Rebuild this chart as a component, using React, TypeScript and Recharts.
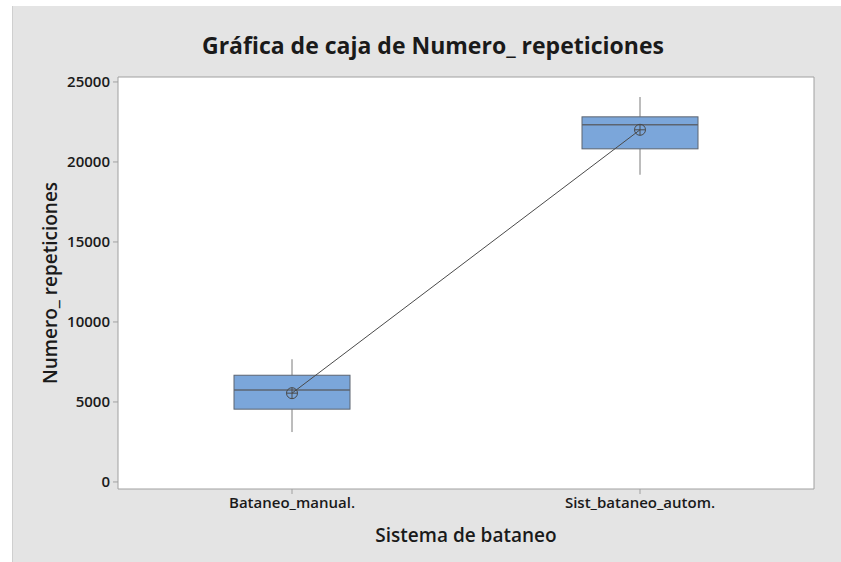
import { ComposedChart, Bar, Line, XAxis, YAxis, CartesianGrid, ReferenceArea } from 'recharts'

const categories = ['Bataneo_manual.', 'Sist_bataneo_autom.']
const whiskerMin = [3120, 19200]
const q1 = [4550, 20820]
const median = [5740, 22320]
const q3 = [6670, 22820]
const whiskerMax = [7670, 24060]
const means = [5550, 22010]

const yTicks = [0, 5000, 10000, 15000, 20000, 25000]
const yDomain: [number, number] = [-440, 25310]

const data = categories.map((name, i) => ({
  name,
  box: [q1[i], q3[i]],
  min: whiskerMin[i],
  q1: q1[i],
  median: median[i],
  q3: q3[i],
  max: whiskerMax[i],
  mean: means[i],
}))

const FONT = '"Open Sans", "Noto Sans", sans-serif'
const TEXT = '#1a1a1a'

const BoxShape = (props: any) => {
  const { x, y, width, height, payload } = props
  const top = Math.min(y, y + height)
  const bottom = Math.max(y, y + height)
  const ppu = (bottom - top) / (payload.q3 - payload.q1)
  const cx = x + width / 2
  const medY = top + (payload.q3 - payload.median) * ppu
  const hiY = top - (payload.max - payload.q3) * ppu
  const loY = bottom + (payload.q1 - payload.min) * ppu
  return (
    <g>
      <line x1={cx} x2={cx} y1={hiY} y2={top} stroke="#7a7a7a" strokeWidth={1} />
      <line x1={cx} x2={cx} y1={bottom} y2={loY} stroke="#7a7a7a" strokeWidth={1} />
      <rect x={x} y={top} width={width} height={bottom - top} fill="#7ba6da" stroke="#5c6470" strokeWidth={1} />
      <line x1={x} x2={x + width} y1={medY} y2={medY} stroke="#5c6470" strokeWidth={1.5} />
    </g>
  )
}

const MeanDot = (props: any) => {
  const { cx, cy, index } = props
  if (cx == null || cy == null) return <g key={index} />
  return (
    <g key={index}>
      <circle cx={cx} cy={cy} r={5.5} fill="none" stroke="#4a4a4a" strokeWidth={1} />
      <line x1={cx - 5.5} x2={cx + 5.5} y1={cy} y2={cy} stroke="#4a4a4a" strokeWidth={1} />
      <line x1={cx} x2={cx} y1={cy - 5.5} y2={cy + 5.5} stroke="#4a4a4a" strokeWidth={1} />
    </g>
  )
}

const YLabel = (props: any) => {
  const vb = props.viewBox
  const x = vb.x + 50
  const y = vb.y + vb.height / 2
  return (
    <text x={x} y={y} transform={`rotate(-90 ${x} ${y})`} textAnchor="middle" dominantBaseline="central"
      fontFamily={FONT} fontSize={19} fontWeight={600} fill={TEXT}>
      Numero_ repeticiones
    </text>
  )
}

const XLabel = (props: any) => {
  const vb = props.viewBox
  return (
    <text x={vb.x + vb.width / 2} y={vb.y + 46} textAnchor="middle" dominantBaseline="central"
      fontFamily={FONT} fontSize={19} fontWeight={600} fill={TEXT}>
      Sistema de bataneo
    </text>
  )
}

export default function App() {
  return (
    <div style={{ position: 'relative', width: 841, height: 562, background: '#fff' }}>
      <style>{'body{margin:0}'}</style>
      <div
        style={{
          position: 'absolute', left: 12, top: 6, width: 829, height: 556,
          background: '#e4e4e4', borderLeft: '1px solid #cfcfcf', boxSizing: 'border-box',
        }}
      />
      <div
        style={{
          position: 'absolute', left: 0, top: 29, width: 866, textAlign: 'center', lineHeight: '32px',
          fontFamily: FONT, fontSize: 23, fontWeight: 700, color: TEXT,
        }}
      >
        Gráfica de caja de Numero_ repeticiones
      </div>
      <div style={{ position: 'absolute', left: 0, top: 0 }}>
        <ComposedChart width={841} height={562} data={data} margin={{ top: 77, right: 27, bottom: 0, left: 0 }}>
          <CartesianGrid horizontal={false} vertical={false} fill="#ffffff" />
          <XAxis
            dataKey="name"
            height={73}
            axisLine={false}
            tickLine={{ stroke: '#a0a0a0' }}
            tickSize={5}
            tickMargin={3}
            tick={{ fill: TEXT, fontSize: 15, fontWeight: 600, fontFamily: FONT }}
            label={{ content: XLabel }}
          />
          <YAxis
            width={118}
            domain={yDomain}
            ticks={yTicks}
            allowDataOverflow
            axisLine={false}
            tickLine={{ stroke: '#a0a0a0' }}
            tickSize={5}
            tickMargin={3}
            tick={{ fill: TEXT, fontSize: 15, fontWeight: 600, fontFamily: FONT }}
            label={{ content: YLabel }}
          />
          <ReferenceArea y1={yDomain[0]} y2={yDomain[1]} fill="none" stroke="#a0a0a0" strokeWidth={1} ifOverflow="visible" />
          <Bar dataKey="box" barSize={116} shape={BoxShape} isAnimationActive={false} />
          <Line dataKey="mean" stroke="#4a4a4a" strokeWidth={1} dot={MeanDot} activeDot={false} isAnimationActive={false} />
        </ComposedChart>
      </div>
    </div>
  )
}
